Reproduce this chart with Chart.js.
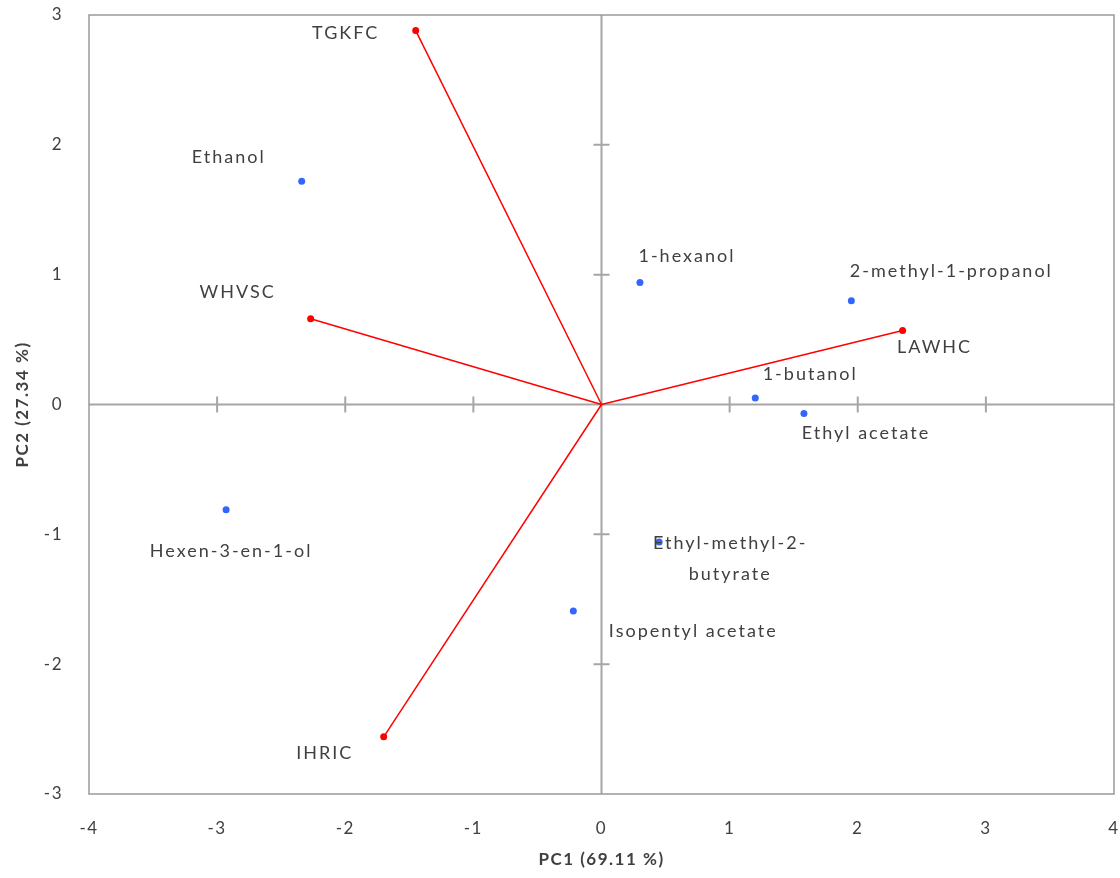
<!DOCTYPE html>
<html>
<head>
<meta charset="utf-8">
<script src="https://cdn.jsdelivr.net/npm/chart.js@4"></script>
<style>
  html, body { margin: 0; padding: 0; background: #fff; }
  #wrap { width: 1120px; height: 878px; }
</style>
</head>
<body>
<div id="wrap"><canvas id="pcaChart"></canvas></div>
<script>
// PCA biplot data
const vectorNames = ["TGKFC", "WHVSC", "LAWHC", "IHRIC"];
const vectorX = [-1.45, -2.27, 2.35, -1.70];
const vectorY = [2.88, 0.66, 0.57, -2.56];

const compoundNames = ["Ethanol", "1-hexanol", "2-methyl-1-propanol", "1-butanol", "Ethyl acetate",
  "Hexen-3-en-1-ol", "Ethyl-methyl-2-\nbutyrate", "Isopentyl acetate"];
const compoundX = [-2.34, 0.30, 1.95, 1.20, 1.58, -2.93, 0.45, -0.22];
const compoundY = [1.72, 0.94, 0.80, 0.05, -0.07, -0.81, -1.06, -1.59];

const xTicks = [-4, -3, -2, -1, 0, 1, 2, 3, 4];
const yTicks = [-3, -2, -1, 0, 1, 2, 3];
const xTitle = "PC1 (69.11 %)";
const yTitle = "PC2 (27.34 %)";

// label placement relative to the marker (pixels)
const vectorLabelOffset = [[-70, 3], [-73, -27], [32, 17], [-59, 16]];
const compoundLabelOffset = [[-73, -24], [47, -26], [100, -29], [55, -24], [62, 20], [5, 42], [71, 1], [120, 20]];

const FONT = "Lato, 'Liberation Sans', sans-serif";
const TEXT_COLOR = "#404040";

var datasets = [];
vectorNames.forEach(function (name, i) {
  datasets.push({
    label: name,
    type: "line",
    data: [{ x: 0, y: 0 }, { x: vectorX[i], y: vectorY[i] }],
    borderColor: "#ff0000",
    backgroundColor: "#ff0000",
    borderWidth: 1.5,
    pointRadius: [0, 3.5],
    pointBorderWidth: 0,
    fill: false
  });
});
datasets.push({
  label: "compounds",
  type: "scatter",
  data: compoundX.map(function (x, i) { return { x: x, y: compoundY[i] }; }),
  backgroundColor: "#3366ff",
  borderColor: "#3366ff",
  pointRadius: 3.5,
  pointBorderWidth: 0
});

// zero axes with crossing ticks, plot frame and point labels
const biplotDecor = {
  id: "biplotDecor",
  beforeDraw: function (chart) {
    chart.ctx.letterSpacing = "1.5px";
  },
  beforeDatasetsDraw: function (chart) {
    var ctx = chart.ctx;
    var xs = chart.scales.x, ys = chart.scales.y;
    var a = chart.chartArea;
    var x0 = xs.getPixelForValue(0), y0 = ys.getPixelForValue(0);
    ctx.save();
    ctx.strokeStyle = "#a6a6a6";
    ctx.lineWidth = 2;
    ctx.beginPath();
    ctx.moveTo(a.left, y0); ctx.lineTo(a.right, y0);
    ctx.moveTo(x0, a.top); ctx.lineTo(x0, a.bottom);
    xTicks.forEach(function (t) {
      if (t === xTicks[0] || t === xTicks[xTicks.length - 1]) return;
      var px = xs.getPixelForValue(t);
      ctx.moveTo(px, y0 - 8); ctx.lineTo(px, y0 + 8);
    });
    yTicks.forEach(function (t) {
      if (t === yTicks[0] || t === yTicks[yTicks.length - 1]) return;
      var py = ys.getPixelForValue(t);
      ctx.moveTo(x0 - 8, py); ctx.lineTo(x0 + 8, py);
    });
    ctx.stroke();
    ctx.strokeStyle = "#9a9a9a";
    ctx.lineWidth = 1.5;
    ctx.strokeRect(a.left, a.top, a.right - a.left, a.bottom - a.top);
    ctx.restore();
  },
  afterDatasetsDraw: function (chart) {
    var ctx = chart.ctx;
    var xs = chart.scales.x, ys = chart.scales.y;
    ctx.save();
    ctx.font = "18px " + FONT;
    ctx.letterSpacing = "2px";
    ctx.fillStyle = TEXT_COLOR;
    ctx.textAlign = "center";
    ctx.textBaseline = "middle";
    function put(text, x, y, off) {
      var px = xs.getPixelForValue(x) + off[0];
      var py = ys.getPixelForValue(y) + off[1];
      text.split("\n").forEach(function (line, k) {
        ctx.fillText(line, px, py + k * 31);
      });
    }
    vectorNames.forEach(function (n, i) { put(n, vectorX[i], vectorY[i], vectorLabelOffset[i]); });
    compoundNames.forEach(function (n, i) { put(n, compoundX[i], compoundY[i], compoundLabelOffset[i]); });
    ctx.restore();
  }
};

new Chart("pcaChart", {
  type: "scatter",
  data: { datasets: datasets },
  options: {
    responsive: true,
    maintainAspectRatio: false,
    animation: false,
    layout: { padding: { top: 15, right: 6, left: 8, bottom: 4 } },
    plugins: { legend: { display: false }, tooltip: { enabled: false } },
    scales: {
      x: {
        type: "linear",
        min: -4, max: 4,
        afterBuildTicks: function (s) { s.ticks = xTicks.map(function (v) { return { value: v }; }); },
        afterFit: function (s) { s.height = 80; s.paddingLeft = 0; s.paddingRight = 0; },
        grid: { display: false, drawTicks: false },
        border: { display: false },
        ticks: { color: TEXT_COLOR, font: { size: 17, family: FONT }, padding: 24 },
        title: { display: true, text: xTitle, color: TEXT_COLOR, font: { size: 17, weight: "bold", family: FONT }, padding: { top: 4 } }
      },
      y: {
        type: "linear",
        min: -3, max: 3,
        afterBuildTicks: function (s) { s.ticks = yTicks.map(function (v) { return { value: v }; }); },
        afterFit: function (s) { s.width = 81; s.paddingTop = 0; s.paddingBottom = 0; },
        grid: { display: false, drawTicks: false },
        border: { display: false },
        ticks: { color: TEXT_COLOR, font: { size: 17, family: FONT }, padding: 26 },
        title: { display: true, text: yTitle, color: TEXT_COLOR, font: { size: 17, weight: "bold", family: FONT }, padding: { bottom: 4 } }
      }
    }
  },
  plugins: [biplotDecor]
});
</script>
</body>
</html>
